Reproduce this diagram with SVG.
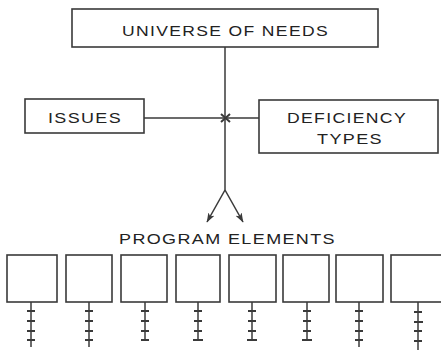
<svg xmlns="http://www.w3.org/2000/svg" width="441" height="352" viewBox="0 0 441 352">
<defs>
<style>
.box{fill:#fff;stroke:#3a3a3a;stroke-width:1.6}
.ln{fill:none;stroke:#3a3a3a;stroke-width:1.5}
.tk{fill:none;stroke:#3a3a3a;stroke-width:1.8}
.t{font-family:"Liberation Sans",Arial,sans-serif;font-size:15.5px;letter-spacing:1.2px;fill:#222}
</style>
<marker id="ah" markerWidth="10" markerHeight="8" refX="9" refY="4" orient="auto" markerUnits="userSpaceOnUse">
<path d="M0,0.5 L9.5,4 L0,7.5 L2.5,4 Z" fill="#3a3a3a"/>
</marker>
</defs>
<rect width="441" height="352" fill="#fff"/>
<g id="connectors">
<path class="ln" d="M225,47 V190"/>
<path class="ln" d="M144,118 H259"/>
<path class="ln" d="M221,114 L230,122 M230,114 L221,122" style="stroke-width:2"/>
<path class="ln" d="M225,190 L207,222" marker-end="url(#ah)"/>
<path class="ln" d="M225,190 L243,222" marker-end="url(#ah)"/>
</g>
<g id="universe">
<rect class="box" x="72" y="9" width="306" height="38"/>
<text class="t" x="122" y="36" textLength="207" lengthAdjust="spacingAndGlyphs">UNIVERSE OF NEEDS</text>
</g>
<g id="issues">
<rect class="box" x="25" y="99" width="119" height="34"/>
<text class="t" x="48" y="123" textLength="74" lengthAdjust="spacingAndGlyphs">ISSUES</text>
</g>
<g id="deficiency">
<rect class="box" x="259" y="100" width="179" height="53"/>
<text class="t" x="287" y="123" textLength="120" lengthAdjust="spacingAndGlyphs">DEFICIENCY</text>
<text class="t" x="317" y="144" textLength="66" lengthAdjust="spacingAndGlyphs">TYPES</text>
</g>
<g id="program-label">
<text class="t" x="119" y="244" textLength="217" lengthAdjust="spacingAndGlyphs">PROGRAM ELEMENTS</text>
</g>
<g id="pe1">
<rect class="box" x="7" y="255" width="50" height="47"/>
<path class="ln" d="M31,302 V347"/>
<path class="tk" d="M27,311 H35 M27,321 H35 M27,331 H35 M27,340 H35"/>
</g>
<g id="pe2">
<rect class="box" x="66" y="255" width="46" height="47"/>
<path class="ln" d="M89,302 V347"/>
<path class="tk" d="M85,311 H93 M85,321 H93 M85,331 H93 M85,340 H93"/>
</g>
<g id="pe3">
<rect class="box" x="121" y="255" width="46" height="47"/>
<path class="ln" d="M145,302 V340"/>
<path class="tk" d="M141,311 H149 M141,321 H149 M141,331 H149 M141,340 H149"/>
</g>
<g id="pe4">
<rect class="box" x="176" y="255" width="44" height="47"/>
<path class="ln" d="M198,302 V340"/>
<path class="tk" d="M194,311 H202 M194,321 H202 M194,331 H202 M193,340 H203"/>
</g>
<g id="pe5">
<rect class="box" x="229" y="255" width="47" height="47"/>
<path class="ln" d="M252,302 V340"/>
<path class="tk" d="M248,311 H256 M248,321 H256 M248,331 H256 M247,340 H257"/>
</g>
<g id="pe6">
<rect class="box" x="283" y="255" width="46" height="47"/>
<path class="ln" d="M307,302 V340"/>
<path class="tk" d="M303,311 H311 M303,321 H311 M303,331 H311 M302,340 H312"/>
</g>
<g id="pe7">
<rect class="box" x="336" y="255" width="47" height="47"/>
<path class="ln" d="M359,302 V347"/>
<path class="tk" d="M355,311 H363 M355,321 H363 M355,331 H363 M355,340 H363"/>
</g>
<g id="pe8">
<rect class="box" x="391" y="255" width="52" height="47"/>
<path class="ln" d="M418,302 V350"/>
<path class="tk" d="M414,312 H422 M414,322 H423 M414,331 H422 M414,341 H422"/>
</g>
</svg>
